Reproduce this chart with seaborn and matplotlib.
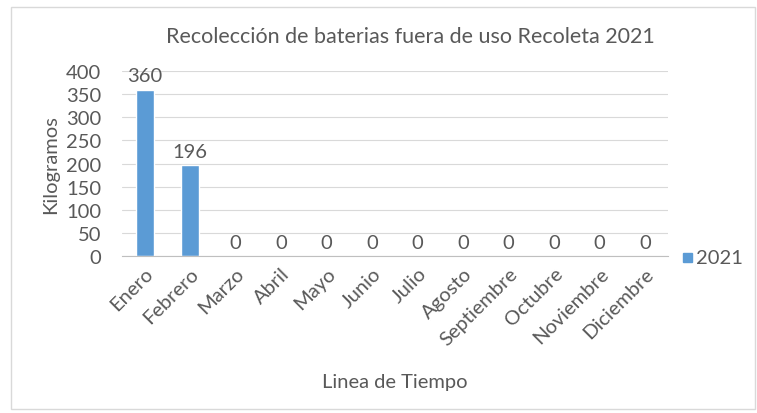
import matplotlib
matplotlib.use("Agg")
import matplotlib.pyplot as plt
import seaborn as sns
import pandas as pd
from matplotlib.patches import Rectangle

# Data
meses = ['Enero', 'Febrero', 'Marzo', 'Abril', 'Mayo', 'Junio', 'Julio',
         'Agosto', 'Septiembre', 'Octubre', 'Noviembre', 'Diciembre']
kilos_2021 = [360, 196, 0, 0, 0, 0, 0, 0, 0, 0, 0, 0]
y_ticks = [0, 50, 100, 150, 200, 250, 300, 350, 400]

df = pd.DataFrame({'Mes': meses, 'Kilogramos': kilos_2021})

sns.set_style("white")
plt.rcParams['font.family'] = ['Lato', 'DejaVu Sans']

azul = '#5B9BD5'
gris_txt = '#595959'
fs = 14.5

fig = plt.figure(figsize=(7.57, 4.14), dpi=100)
ax = fig.add_axes([0.161, 0.379, 0.721, 0.447])

sns.barplot(data=df, x='Mes', y='Kilogramos', color=azul, width=0.4,
            saturation=1, ax=ax)

ax.set_ylim(0, 400)
ax.set_yticks(y_ticks)
ax.set_xlim(-0.5, len(meses) - 0.5)
ax.yaxis.grid(True, color='#D9D9D9', linewidth=0.8)
ax.set_axisbelow(True)
for s in ['top', 'right', 'left']:
    ax.spines[s].set_visible(False)
ax.spines['bottom'].set_color('#BFBFBF')
ax.tick_params(axis='both', length=0, colors=gris_txt, labelsize=fs)
ax.tick_params(axis='y', pad=15)
ax.set_xticks(range(len(meses)))
ax.set_xticklabels(meses, rotation=45, ha='right', rotation_mode='anchor')
ax.tick_params(axis='x', pad=6)

# Data labels
for i, v in enumerate(kilos_2021):
    ax.text(i, v + 12, str(v), ha='center', va='bottom', fontsize=fs,
            color=gris_txt)

ax.set_xlabel('Linea de Tiempo', fontsize=fs, color=gris_txt, labelpad=18)
ax.set_ylabel('Kilogramos', fontsize=fs, color=gris_txt, labelpad=5)

fig.text(410 / 757, 1 - 37 / 414, 'Recolección de baterias fuera de uso Recoleta 2021',
         ha='center', va='center', fontsize=15.5, color=gris_txt)

# Legend
fig.patches.append(Rectangle((683 / 757, 1 - 263 / 414), 9 / 757, 9 / 414,
                             transform=fig.transFigure, color=azul))
fig.text(696 / 757, 1 - 258 / 414, '2021', ha='left', va='center',
         fontsize=fs, color=gris_txt)

# Chart border
fig.patches.append(Rectangle((11 / 757, 4 / 414), 744 / 757, 402 / 414,
                             transform=fig.transFigure, fill=False,
                             edgecolor='#D9D9D9', linewidth=1))

fig.savefig('out.png', dpi=100)
